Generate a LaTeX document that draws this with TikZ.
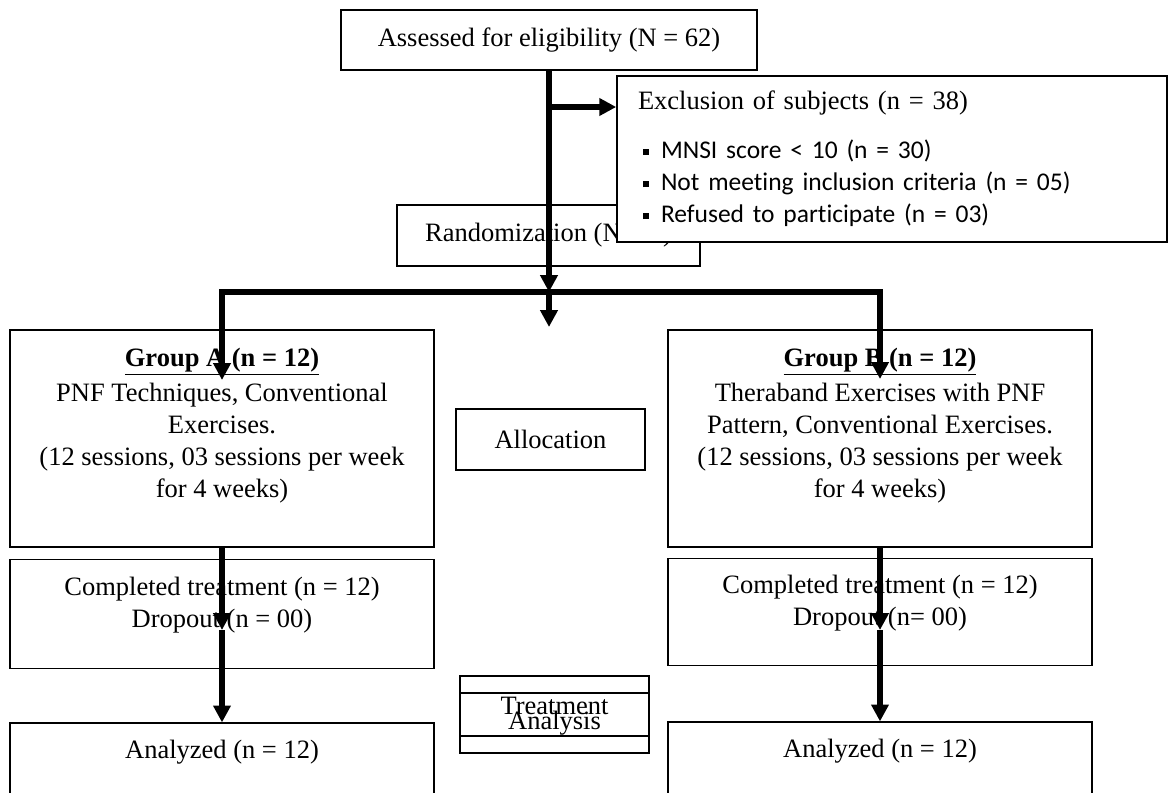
\documentclass[tikz,border=0pt]{standalone}
\usepackage{fontspec}
\setmainfont{Liberation Serif}
\newfontfamily\listfont[Ligatures=NoCommon]{Carlito}
\usepackage{tikz}
\usetikzlibrary{arrows.meta, positioning}

\newcommand{\sqitem}{\hspace*{2.5pt}\rule[1.8pt]{3pt}{3pt}\hspace{6pt}}

\begin{document}
\begin{tikzpicture}[
    x=0.5pt, y=-0.5pt,
    box/.style={rectangle, draw=black, line width=0.8pt, fill=white, inner sep=0pt, align=center, font=\fontsize{13.25pt}{16pt}\selectfont},
    plainbox/.style={box, fill=none},
    groupbox/.style={box, minimum width=212pt, minimum height=108.5pt},
    countbox/.style={box, minimum width=212pt, minimum height=54pt},
    arrow/.style={-{Triangle[length=8.4pt, width=8.4pt]}, line width=2.8pt}
]
    \useasboundingbox (0,0) rectangle (1169,793);
    \clip (0,0) rectangle (1169,793);

    \node[box, minimum width=208pt, minimum height=30pt] (assess) at (549,40) {Assessed for eligibility (N = 62)};
    \node[box, minimum width=151.5pt, minimum height=30.5pt] (random) at (548.5,235.5) {Randomization (N=24)};
    \node[box, minimum width=275pt, minimum height=83pt, text width=254pt, align=left] (excl) at (892,159) {Exclusion of subjects (n = 38)\\[8pt]
        \listfont\fontsize{12.75pt}{16.25pt}\selectfont\sqitem MNSI score < 10 (n = 30)\\
        \sqitem Not meeting inclusion criteria (n = 05)\\
        \sqitem Refused to participate (n = 03)};

    \node[groupbox] (groupA) at (222,438.5) {\underline{\textbf{Group A (n = 12)}}\\[1.5pt] PNF Techniques, Conventional\\ Exercises.\\ (12 sessions, 03 sessions per week\\ for 4 weeks)\\ ~};
    \node[groupbox] (groupB) at (880,438.5) {\underline{\textbf{Group B (n = 12)}}\\[1.5pt] Theraband Exercises with PNF\\ Pattern, Conventional Exercises.\\ (12 sessions, 03 sessions per week\\ for 4 weeks)\\ ~};
    \node[box, minimum width=94.5pt, minimum height=30.5pt] (alloc) at (550.5,439.5) {Allocation};

    \node[countbox, minimum height=54.5pt, below=5.5pt of groupA] (doneA) {Completed treatment (n = 12)\\ Dropout (n = 00)\\[-4.5pt] ~};
    \node[countbox, minimum height=53.5pt, below=5pt of groupB] (doneB) {Completed treatment (n = 12)\\ Dropout (n= 00)\\[-4.5pt] ~};
    \node[box, minimum width=212pt, minimum height=42pt, below=26.5pt of doneA] (analyzedA) {Analyzed (n = 12)\\ ~};
    \node[box, minimum width=212pt, minimum height=42pt, below=27.5pt of doneB] (analyzedB) {Analyzed (n = 12)\\ ~};

    \node[plainbox, minimum width=94.5pt, minimum height=30pt] (treat) at (554.5,706) {Treatment};
    \node[plainbox, minimum width=94.5pt, minimum height=30pt] (analysis) at (554.5,723) {Analysis};

    \coordinate (branch) at (549,107);
    \coordinate (split) at (549,292);
    \coordinate (splitTip) at (549,327);
    \coordinate (tipA) at (222,380);
    \coordinate (tipB) at (880,379);
    \coordinate (dropA) at (222,630);
    \coordinate (dropB) at (880,630);

    \draw[arrow] (assess) -- (split);
    \draw[arrow] (branch) -- (branch -| excl.west);
    \draw[arrow] (split) -- (splitTip);
    \draw[arrow] (split) -| (tipA);
    \draw[arrow] (split) -| (tipB);
    \draw[arrow] (groupA) -- (dropA);
    \draw[arrow] (dropA) -- (analyzedA);
    \draw[arrow] (groupB) -- (dropB);
    \draw[arrow] (dropB) -- (analyzedB);
\end{tikzpicture}
\end{document}
